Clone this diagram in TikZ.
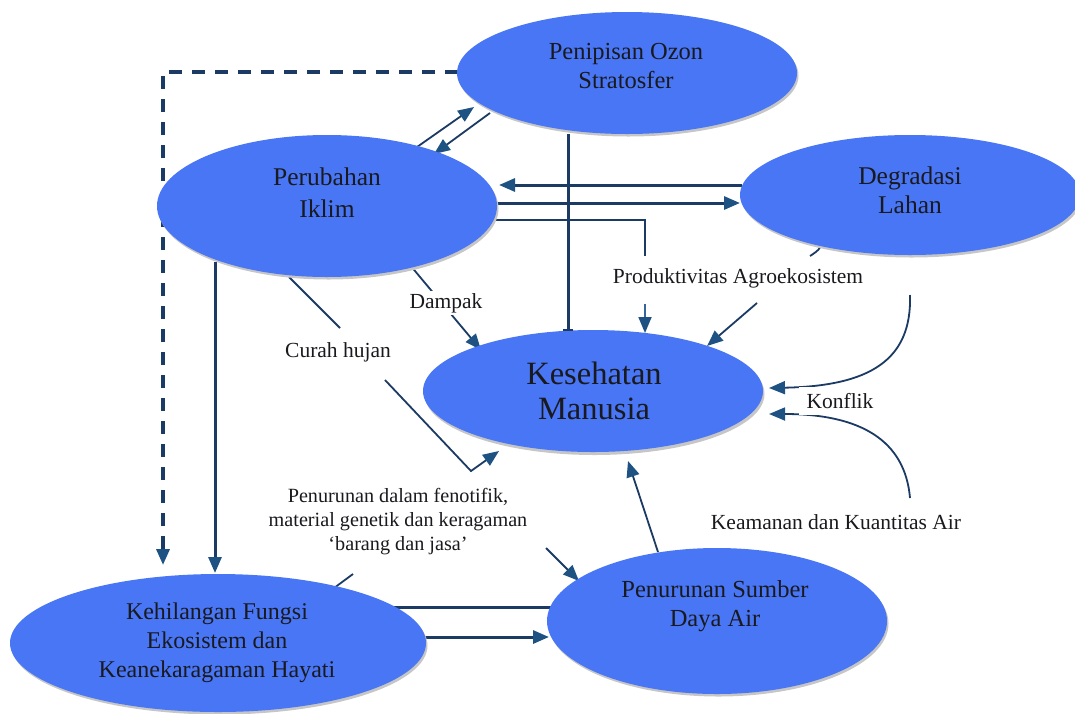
\documentclass[tikz,border=0pt]{standalone}
\usepackage{fontspec}
\setmainfont{Liberation Serif}
\usetikzlibrary{shapes.geometric,arrows.meta,backgrounds}

\definecolor{blobfill}{RGB}{72,118,245}
\definecolor{navy}{RGB}{27,58,100}
\definecolor{tipc}{RGB}{30,82,130}
\definecolor{ink}{RGB}{25,25,30}
\definecolor{thinblue}{RGB}{55,100,155}

\begin{document}
\begin{tikzpicture}[x=1pt,y=-1pt,
  bubble/.style={ellipse, fill=blobfill, draw=none, inner sep=0pt},
  rim/.style={ellipse, fill=gray!45, draw=none, inner sep=0pt},
  etext/.style={font=\fontsize{24.5}{29}\selectfont, text=ink, align=center, inner sep=0pt},
  lbl/.style={font=\fontsize{21.5}{24}\selectfont, text=ink, align=center, inner sep=2pt},
  tip/.style={-{Triangle[length=16pt,width=13pt,color=tipc]}},
  heavy/.style={draw=navy, line width=3pt},
  light/.style={draw=navy, line width=1.8pt},
  dashline/.style={draw=navy, line width=3.5pt, dash pattern=on 13pt off 10pt},
]
\useasboundingbox (0,0) rectangle (1075,713);
\clip (0,0) rectangle (1075,713);

% ---- bevel rims under the ellipses
\node[rim, minimum width=340pt, minimum height=122pt] at (628.5,75.5) {};
\node[rim, minimum width=340pt, minimum height=142pt] at (328.5,208.5) {};
\node[rim, minimum width=340pt, minimum height=120pt] at (911.5,197.5) {};
\node[rim, minimum width=340pt, minimum height=122pt] at (594.5,394) {};
\node[rim, minimum width=340pt, minimum height=146pt] at (718.5,623.5) {};
\node[rim, minimum width=416pt, minimum height=138pt] at (219.5,645.5) {};

% ---- ellipses
\node[bubble, minimum width=340pt, minimum height=122pt] (ozon) at (627,73) {};
\node[bubble, minimum width=340pt, minimum height=142pt] (iklim) at (327,206) {};
\node[bubble, minimum width=340pt, minimum height=120pt] (lahan) at (910,195) {};
\node[bubble, minimum width=340pt, minimum height=122pt] (sehat) at (593,391) {};
\node[bubble, minimum width=340pt, minimum height=146pt] (air) at (717,621) {};
\node[bubble, minimum width=416pt, minimum height=138pt] (hayati) at (218,643) {};

% ---- ellipse captions
\node[etext] (ozonT) at (626,66) {Penipisan Ozon\\Stratosfer};
\node[etext, font=\fontsize{25.5}{32}\selectfont] (iklimT) at (327,193) {Perubahan\\Iklim};
\node[etext, font=\fontsize{25.5}{29}\selectfont] (lahanT) at (910,190) {Degradasi\\Lahan};
\node[etext, font=\fontsize{32.5}{35}\selectfont] (sehatT) at (594,391) {Kesehatan\\Manusia};
\node[etext] (airT) at (715,606) {Penurunan Sumber\\Daya Air};
\node[etext, font=\fontsize{24}{29}\selectfont] (hayatiT) at (217,643) {Kehilangan Fungsi\\Ekosistem dan\\Keanekaragaman Hayati};

% ---- route points
\coordinate (d0) at (458,72);
\coordinate (d1) at (163,72);
\coordinate (d2) at (163,565);
\coordinate (v0) at (215,262);
\coordinate (v1) at (215,573);
\coordinate (u0) at (417,147);
\coordinate (u1) at (474,107);
\coordinate (w0) at (490,113);
\coordinate (w1) at (434,154);
\coordinate (o0) at (568,134);
\coordinate (o1) at (568,330);
\coordinate (l0) at (742,185);
\coordinate (l1) at (499,185);
\coordinate (r0) at (497,203);
\coordinate (r1) at (740,203);
\coordinate (p0) at (496,220);
\coordinate (p1) at (645,220);
\coordinate (p2) at (645,256);
\coordinate (p3) at (645,304);
\coordinate (p4) at (645,333);
\coordinate (g0) at (757,303);
\coordinate (g1) at (707,346);
\coordinate (s0) at (822,243);
\coordinate (s1) at (810,256);
\coordinate (k0) at (910,295);
\coordinate (k1) at (769,388);
\coordinate (k2) at (910,498);
\coordinate (k3) at (769,414);
\coordinate (a0) at (658,552);
\coordinate (a1) at (628,461);
\coordinate (h0) at (393,607);
\coordinate (h1) at (551,607);
\coordinate (h2) at (423,637);
\coordinate (h3) at (549,637);
\coordinate (m0) at (410,265);
\coordinate (m1) at (481,350);
\coordinate (c0) at (289,277);
\coordinate (c1) at (340,328);
\coordinate (c2) at (385,380);
\coordinate (c3) at (471,471);
\coordinate (c4) at (499,451);
\coordinate (f0) at (330,591);
\coordinate (f1) at (353,574);
\coordinate (f2) at (546,548);
\coordinate (f3) at (579,581);

% ---- connectors
\begin{scope}[on background layer]
  \draw[dashline, tip] (d0) -- (d1) -- (d2);
  \draw[heavy, tip] (v0) -- (v1);
  \draw[light, tip] (u0) -- (u1);
  \draw[light, tip] (w0) -- (w1);
  \draw[heavy] (o0) -- (o1);
  \draw[heavy, tip] (l0) -- (l1);
  \draw[heavy, tip] (r0) -- (r1);
  \draw[draw=navy, line width=1.8pt] (p0) -- (p1) -- (p2);
  \draw[draw=thinblue, line width=1.8pt, tip] (p3) -- (p4);
  \draw[light, tip] (g0) -- (g1);
  \draw[light] (s0) .. controls (819,250) .. (s1);
  \draw[light, tip] (k0) .. controls (912,360) and (870,386) .. (k1);
  \draw[light, tip] (k2) .. controls (905,440) and (860,414) .. (k3);
  \draw[light, tip] (a0) -- (a1);
  \draw[heavy] (h0) -- (h1);
  \draw[heavy, tip] (h2) -- (h3);
  \draw[light, tip] (m0) -- (m1);
  \draw[light] (c0) -- (c1);
  \draw[light, tip] (c2) -- (c3) -- (c4);
  \draw[light] (f0) -- (f1);
  \draw[light, tip] (f2) -- (f3);
\end{scope}

% ---- bar end on the ozone-to-health link
\draw[navy, line width=2.5pt] ([xshift=-5pt]o1) -- ([xshift=5pt]o1);

% ---- connector labels
\node[lbl] (prod) at (738,278) {Produktivitas Agroekosistem};
\node[lbl, fill=white] (dampak) at (446,303) {Dampak};
\node[lbl] (curah) at (338,352) {Curah hujan};
\node[lbl, fill=white, inner xsep=8pt, inner ysep=6pt] (konflik) at (840,401) {Konflik};
\node[lbl] (aman) at (836,522) {Keamanan dan Kuantitas Air};
\node[lbl, font=\fontsize{20.2}{24}\selectfont] (feno) at (398,522) {Penurunan dalam fenotifik,\\material genetik dan keragaman\\‘barang dan jasa’};
\end{tikzpicture}
\end{document}
